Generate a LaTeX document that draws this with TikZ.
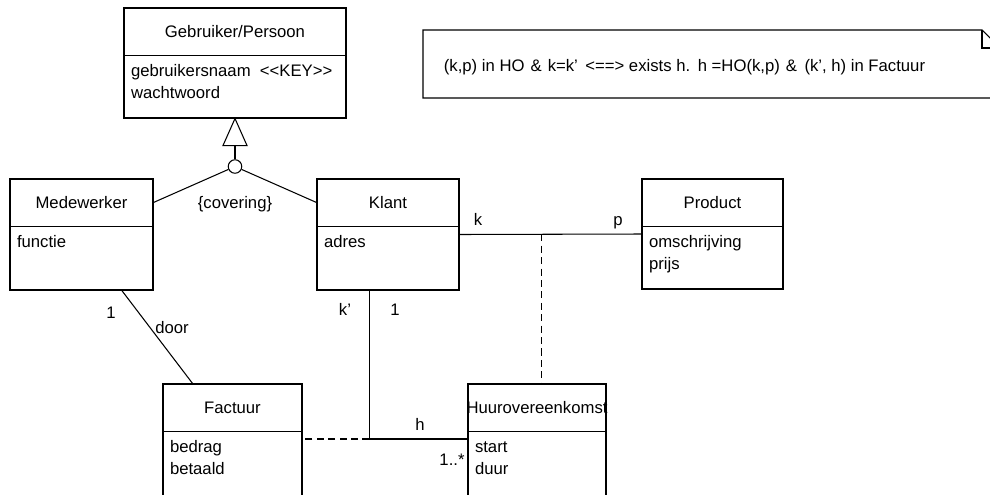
\documentclass[tikz,border=0pt]{standalone}
\usepackage{fontspec}
\setmainfont{Liberation Sans}
\usetikzlibrary{calc,fit}

\tikzset{
  klasse/.style={draw, inner sep=0pt},
  titel/.style={anchor=base, inner sep=0pt},
  attr/.style={anchor=base west, inner sep=0pt},
  lbl/.style={anchor=base, inner sep=0pt},
  koppel/.style={dashed, dash pattern=on 4pt off 2.5pt},
}

% klasse: naam, linksboven, rechtsonder, titel, attributen
\newcommand{\umlklasse}[5]{%
  \node[klasse, fit={#2 #3}] (#1) {};
  \coordinate (#1-div) at ($(#1.north west)+(0,48)$);
  \draw (#1-div) -- (#1-div -| #1.east);
  \node[titel] at ($(#1.north)+(0,30)$) {#4};
  \foreach \a [count=\i] in {#5} {
    \node[attr] at ($(#1-div)+(7,21.5*\i)$) {\a};
  }
}
\newcommand{\xsp}{\hspace{0.8pt}}

\begin{document}
\begin{tikzpicture}[x=0.02cm, y=-0.02cm, line width=0.6pt,
    every node/.style={font=\fontsize{9.5}{12}\selectfont}]
		\clip (0,0) rectangle (990,494);
		\umlklasse{gebruiker}{(124,8)}{(346,118)}{Gebruiker/Persoon}{gebruikersnaam\ \ <{}<KEY>{}>, wachtwoord}
		\umlklasse{medewerker}{(10,179)}{(153,290)}{Medewerker}{functie}
		\umlklasse{klant}{(317,179)}{(459,290)}{Klant}{adres}
		\umlklasse{product}{(642,179)}{(783,289)}{Product}{omschrijving, prijs}
		\umlklasse{factuur}{(163,384)}{(302,496)}{Factuur}{bedrag, betaald}
		\umlklasse{huur}{(468,384)}{(606,496)}{Huurovereenkomst}{start, duur}
		
		% generalisatie
		\draw (gebruiker.south) -- ++(-12,27) coordinate (tri-l) -- ++(24,0) -- cycle;
		\node[draw, circle, minimum size=0.27cm, inner sep=0pt] (cov) at (235,166.5) {};
		\draw ($(tri-l)+(12,0)$) -- (cov.north);
		\draw (cov) -- ($(medewerker.north east)+(0,24)$);
		\draw (cov) -- ($(klant.north west)+(0,24)$);
		\node[lbl] (covering) at (235,208) {\{covering\}};
		
		% associaties
		\draw ($(medewerker.south west)!0.78!(medewerker.south east)$) -- ($(factuur.north west)!0.215!(factuur.north east)$);
		\node[lbl] (een-m) at (111,318) {1};
		\node[lbl] (door) at (172,333) {door};
		
		\coordinate (ho) at ($(klant.east)!0.45!(product.west)$);
		\draw (klant.east) -- (product.west);
		\draw[koppel] (ho) -- (ho |- huur.north);
		\node[lbl] (k) at (478,225) {k};
		\node[lbl] (p) at (618,225) {p};
		
		\coordinate (kv) at ($(klant.south west)!0.37!(klant.south east)$);
		\coordinate (hk) at (kv |- 0,439);
		\draw (kv) -- (hk) -- (hk -| huur.west);
		\draw[koppel] (hk) -- (hk -| factuur.east);
		\node[lbl] (kacc) at (345,315) {k'};
		\node[lbl] (een-k) at (395,315) {1};
		\node[lbl] (h) at (420,430) {h};
		\node[lbl] (veel) at (452,465) {1..*};
		
		% noot
		\draw (423,30) -- (982,30) -- (1000,48) -- (1000,98) -- (423,98) -- cycle;
		\draw (982,30) -- (982,48) -- (1000,48);
		\node (noot) at (684.5,67) {(k,p) in HO \xsp\& \xsp k=k' \xsp\xsp<==> exists h. \xsp h =HO(k,p) \xsp\& \xsp\xsp(k', h) in Factuur};
		
	\end{tikzpicture}
\end{document}
